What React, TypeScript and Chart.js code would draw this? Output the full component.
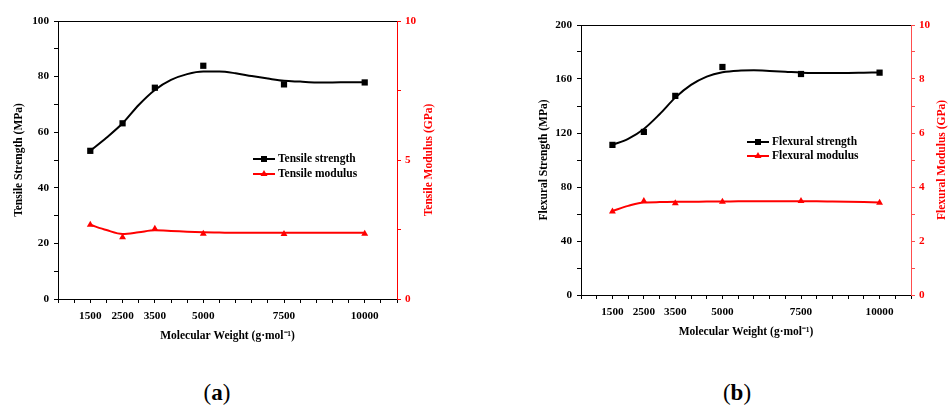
import React, { useEffect, useRef } from "react";
import { Chart, registerables } from "chart.js";

Chart.register(...registerables);

// ---------- data ----------
const molecularWeights = [1500, 2500, 3500, 5000, 7500, 10000];
const xTickLabels = [1500, 2500, 3500, 5000, 7500, 10000];

const tensileStrength = [53.3, 63.2, 76.0, 83.9, 77.2, 77.9];
const tensileModulus = [2.67, 2.22, 2.53, 2.35, 2.34, 2.35];
const flexuralStrength = [111.2, 120.8, 147.5, 168.9, 163.7, 164.7];
const flexuralModulus = [3.09, 3.48, 3.40, 3.45, 3.48, 3.42];

// smoothed fit curves, every 500 g/mol
const fitWeights = [1500, 2000, 2500, 3000, 3500, 4000, 4500, 5000, 5500, 6000, 6500, 7000, 7500, 8000, 8500, 9000, 9500, 10000];
const tensileStrengthFit = [53.3, 58.0, 63.2, 69.8, 75.2, 78.8, 80.9, 81.8, 81.8, 81.2, 80.2, 79.3, 78.5, 78.2, 77.9, 77.9, 78.0, 78.0];
const tensileModulusFit = [2.67, 2.48, 2.34, 2.40, 2.47, 2.45, 2.42, 2.40, 2.39, 2.38, 2.38, 2.38, 2.38, 2.38, 2.38, 2.38, 2.38, 2.38];
const flexuralStrengthFit = [111.2, 115.7, 123.0, 133.9, 146.2, 155.6, 161.8, 165.0, 166.2, 166.4, 166.0, 165.4, 164.7, 164.5, 164.5, 164.5, 164.7, 164.9];
const flexuralModulusFit = [3.11, 3.30, 3.43, 3.44, 3.45, 3.45, 3.46, 3.46, 3.47, 3.47, 3.47, 3.47, 3.47, 3.47, 3.46, 3.45, 3.44, 3.43];

const FONT = '"Liberation Serif", "Times New Roman", serif';
const W = 474;
const H = 362;

type PanelCfg = {
  strength: number[];
  modulus: number[];
  strengthFit: number[];
  modulusFit: number[];
  strengthLabel: string;
  modulusLabel: string;
  leftTitle: string;
  rightTitle: string;
  leftMax: number;
  leftStep: number;
  leftLabelStep: number;
  rightStep: number;
  rightLabelStep: number;
  areaLeft: number;
  areaRight: number;
  areaTop: number;
  areaBottom: number;
  leftTitlePad: number;
  xTitlePad: number;
  rightTitleX: number;
  rightColor: string;
  legendX: number;
  legendY: number[];
};

const panelA: PanelCfg = {
  strength: tensileStrength,
  modulus: tensileModulus,
  strengthFit: tensileStrengthFit,
  modulusFit: tensileModulusFit,
  strengthLabel: "Tensile strength",
  modulusLabel: "Tensile modulus",
  leftTitle: "Tensile Strength (MPa)",
  rightTitle: "Tensile Modulus (GPa)",
  leftMax: 100,
  leftStep: 10,
  leftLabelStep: 20,
  rightStep: 2.5,
  rightLabelStep: 5,
  areaLeft: 58,
  areaRight: 397,
  areaTop: 21,
  areaBottom: 299,
  leftTitlePad: 12,
  xTitlePad: 19,
  rightTitleX: 429,
  rightColor: "#ff0000",
  legendX: 253,
  legendY: [159, 174],
};

const panelB: PanelCfg = {
  strength: flexuralStrength,
  modulus: flexuralModulus,
  strengthFit: flexuralStrengthFit,
  modulusFit: flexuralModulusFit,
  strengthLabel: "Flexural strength",
  modulusLabel: "Flexural modulus",
  leftTitle: "Flexural Strength (MPa)",
  rightTitle: "Flexural Modulus (GPa)",
  leftMax: 200,
  leftStep: 20,
  leftLabelStep: 40,
  rightStep: 1,
  rightLabelStep: 2,
  areaLeft: 107,
  areaRight: 437,
  areaTop: 25,
  areaBottom: 295,
  leftTitlePad: 63,
  xTitlePad: 23,
  rightTitleX: 468,
  rightColor: "#ff4d4d",
  legendX: 273,
  legendY: [142, 156],
};

function Panel({ cfg }: { cfg: PanelCfg }) {
  const ref = useRef<HTMLCanvasElement>(null);

  useEffect(() => {
    if (!ref.current) return;
    const p = cfg;
    const tickFont = { family: FONT, size: 11.2, weight: "bold" as const };
    const titleFont = { family: FONT, size: 11.5, weight: "bold" as const };

    const overlay = {
      id: "overlay",
      afterDraw(chart: any) {
        const ctx = chart.ctx as CanvasRenderingContext2D;
        const a = chart.chartArea;
        ctx.save();
        // top frame line
        ctx.strokeStyle = "#000";
        ctx.lineWidth = 1;
        ctx.beginPath();
        const ty = Math.round(a.top) + 0.5;
        ctx.moveTo(a.left, ty);
        ctx.lineTo(a.right, ty);
        ctx.stroke();
        ctx.restore();

        // right axis title (reads bottom to top)
        ctx.save();
        ctx.translate(p.rightTitleX, (a.top + a.bottom) / 2);
        ctx.rotate(-Math.PI / 2);
        ctx.fillStyle = "#ff0000";
        ctx.font = `bold 11.5px ${FONT}`;
        ctx.textAlign = "center";
        ctx.textBaseline = "middle";
        ctx.fillText(p.rightTitle, 0, 0);
        ctx.restore();

        // legend
        const entries = [
          { label: p.strengthLabel, color: "#000000", shape: "rect" },
          { label: p.modulusLabel, color: "#ff0000", shape: "triangle" },
        ];
        entries.forEach((e, i) => {
          const y = p.legendY[i];
          const x0 = p.legendX;
          ctx.save();
          ctx.strokeStyle = e.color;
          ctx.lineWidth = 2;
          ctx.beginPath();
          ctx.moveTo(x0, y);
          ctx.lineTo(x0 + 22, y);
          ctx.stroke();
          const cx = x0 + 11;
          ctx.fillStyle = e.color;
          if (e.shape === "rect") {
            ctx.fillRect(cx - 3, y - 3, 6, 6);
          } else {
            ctx.beginPath();
            ctx.moveTo(cx, y - 4);
            ctx.lineTo(cx + 3.5, y + 2);
            ctx.lineTo(cx - 3.5, y + 2);
            ctx.closePath();
            ctx.fill();
          }
          ctx.fillStyle = "#000";
          ctx.font = `bold 11.5px ${FONT}`;
          ctx.textAlign = "left";
          ctx.textBaseline = "middle";
          ctx.fillText(e.label, x0 + 25, y + 0.5);
          ctx.restore();
        });
      },
    };

    const toXY = (xs: number[], ys: number[]) => xs.map((x, i) => ({ x, y: ys[i] }));

    const chart = new Chart(ref.current, {
      type: "line",
      data: {
        datasets: [
          {
            label: p.strengthLabel,
            data: toXY(molecularWeights, p.strength),
            yAxisID: "y",
            showLine: false,
            pointStyle: "rect",
            pointRadius: 4.4,
            pointBackgroundColor: "#000",
            pointBorderColor: "#000",
            pointBorderWidth: 0,
            order: 0,
          },
          {
            label: p.strengthLabel + " fit",
            data: toXY(fitWeights, p.strengthFit),
            yAxisID: "y",
            borderColor: "#000",
            borderWidth: 2,
            pointRadius: 0,
            cubicInterpolationMode: "monotone",
            fill: false,
            order: 1,
          },
          {
            label: p.modulusLabel,
            data: toXY(molecularWeights, p.modulus),
            yAxisID: "y1",
            showLine: false,
            pointStyle: "triangle",
            pointRadius: 4,
            pointBackgroundColor: "#ff0000",
            pointBorderColor: "#ff0000",
            pointBorderWidth: 0,
            order: 0,
          },
          {
            label: p.modulusLabel + " fit",
            data: toXY(fitWeights, p.modulusFit),
            yAxisID: "y1",
            borderColor: "#ff0000",
            borderWidth: 2,
            pointRadius: 0,
            cubicInterpolationMode: "monotone",
            fill: false,
            order: 1,
          },
        ],
      },
      options: {
        animation: false,
        responsive: false,
        devicePixelRatio: 1,
        layout: { padding: { left: 0, right: 0, top: p.areaTop, bottom: 0 } },
        plugins: { legend: { display: false }, tooltip: { enabled: false } },
        scales: {
          x: {
            type: "linear",
            position: "bottom",
            min: 500,
            max: 11000,
            afterFit: (s: any) => {
              s.height = H - p.areaBottom;
            },
            ticks: {
              stepSize: 500,
              autoSkip: false,
              maxRotation: 0,
              minRotation: 0,
              padding: 6,
              color: "#000",
              font: tickFont,
              callback: (v: any) => (xTickLabels.includes(Number(v)) ? String(v) : ""),
            },
            grid: { drawOnChartArea: false, drawTicks: true, tickLength: 4, tickColor: "#000" },
            border: { display: true, color: "#000", width: 1 },
            title: {
              display: true,
              text: "Molecular Weight (g·mol⁻¹)",
              color: "#000",
              font: titleFont,
              padding: { top: 0, bottom: p.xTitlePad },
            },
          },
          y: {
            type: "linear",
            position: "left",
            min: 0,
            max: p.leftMax,
            afterFit: (s: any) => {
              s.width = p.areaLeft;
            },
            ticks: {
              stepSize: p.leftStep,
              padding: 5,
              color: "#000",
              font: tickFont,
              callback: (v: any) => (Number(v) % p.leftLabelStep === 0 ? String(v) : ""),
            },
            grid: { drawOnChartArea: false, drawTicks: true, tickLength: 4, tickColor: "#000" },
            border: { display: true, color: "#000", width: 1 },
            title: {
              display: true,
              text: p.leftTitle,
              color: "#000",
              font: titleFont,
              padding: { top: p.leftTitlePad, bottom: 0 },
            },
          },
          y1: {
            type: "linear",
            position: "right",
            min: 0,
            max: 10,
            afterFit: (s: any) => {
              s.width = W - p.areaRight;
            },
            ticks: {
              stepSize: p.rightStep,
              padding: 4,
              color: "#ff0000",
              font: tickFont,
              callback: (v: any) => (Math.abs(Number(v) % p.rightLabelStep) < 1e-9 ? String(v) : ""),
            },
            grid: { drawOnChartArea: false, drawTicks: true, tickLength: 4, tickColor: p.rightColor },
            border: { display: true, color: p.rightColor, width: 1 },
            title: { display: false },
          },
        },
      } as any,
      plugins: [overlay],
    });

    return () => chart.destroy();
  }, [cfg]);

  return <canvas ref={ref} width={W} height={H} style={{ width: W, height: H, display: "block" }} />;
}

export default function App() {
  const capStyle: React.CSSProperties = {
    position: "absolute",
    top: 380,
    transform: "translateX(-50%)",
    fontFamily: FONT,
    fontSize: 23,
    lineHeight: "26px",
    color: "#000",
    whiteSpace: "nowrap",
  };
  return (
    <div
      style={{
        position: "absolute",
        left: 0,
        top: 0,
        width: 948,
        height: 405,
        background: "#fff",
        overflow: "hidden",
      }}
    >
      <div style={{ position: "absolute", left: 0, top: 0 }}>
        <Panel cfg={panelA} />
      </div>
      <div style={{ position: "absolute", left: 474, top: 0 }}>
        <Panel cfg={panelB} />
      </div>
      <div style={{ ...capStyle, left: 217 }}>
        (<b>a</b>)
      </div>
      <div style={{ ...capStyle, left: 737 }}>
        (<b>b</b>)
      </div>
    </div>
  );
}
